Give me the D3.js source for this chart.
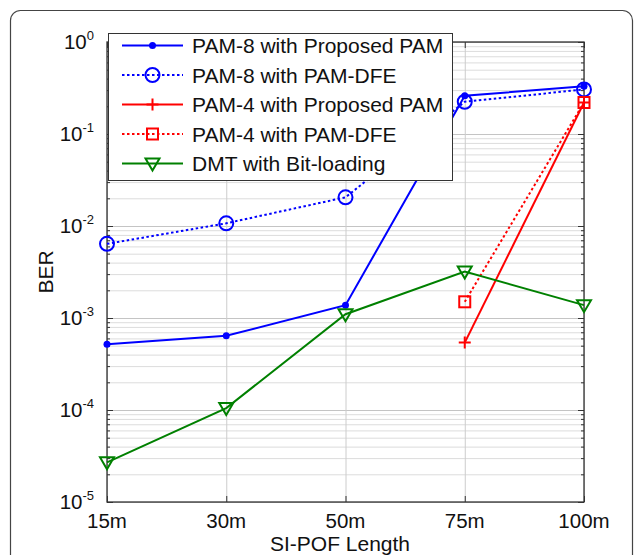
<!DOCTYPE html>
<html><head><meta charset="utf-8">
<script src="https://cdn.jsdelivr.net/npm/d3@7"></script>
<style>html,body{margin:0;padding:0;background:#fff;}svg{display:block;font-family:"Liberation Sans",Arial,sans-serif;}</style>
</head><body><svg id="c" width="635" height="555"></svg>
<script>
const categories = ["15m", "30m", "50m", "75m", "100m"];
const pam8Proposed = [5.2e-4, 6.4e-4, 1.38e-3, 0.26, 0.33];
const pam8DFE = [6.4e-3, 1.07e-2, 2.05e-2, 0.224, 0.305];
const pam4Proposed = [null, null, null, 5.4e-4, 0.22];
const pam4DFE = [null, null, null, 1.5e-3, 0.22];
const dmtBitLoading = [2.7e-5, 1.05e-4, 1.1e-3, 3.2e-3, 1.38e-3];
const seriesNames = ["PAM-8 with Proposed PAM", "PAM-8 with PAM-DFE", "PAM-4 with Proposed PAM", "PAM-4 with PAM-DFE", "DMT with Bit-loading"];
const yTickExponents = [0, -1, -2, -3, -4, -5];
const xLabel = "SI-POF Length";
const yLabel = "BER";

const svg = d3.select("#c");
const L = 107, R = 584, T = 42, B = 502;
const x = d3.scalePoint().domain(categories).range([L, R]);
const y = d3.scaleLog().domain([1e-5, 1]).range([B, T]);

// outer frame
svg.append("rect").attr("x", 10.5).attr("y", 10.5).attr("width", 622).attr("height", 580)
  .attr("rx", 10).attr("fill", "#fff").attr("stroke", "#444").attr("stroke-width", 1.2);

svg.append("rect").attr("x", L).attr("y", T).attr("width", R - L).attr("height", B - T).attr("fill", "#fff");

const minorVals = [];
for (let e = -5; e < 0; e++) for (let m = 2; m <= 9; m++) minorVals.push(m * Math.pow(10, e));
const majorVals = yTickExponents.map(e => Math.pow(10, e));

// grid lines
const gGrid = svg.append("g");
gGrid.append("g").attr("transform", `translate(${L},0)`)
  .call(d3.axisLeft(y).tickValues(minorVals).tickSize(-(R - L)).tickFormat(""))
  .call(g => g.select(".domain").remove())
  .call(g => g.selectAll("line").attr("stroke", "#dcdcdc").attr("stroke-width", 1));
gGrid.append("g").attr("transform", `translate(${L},0)`)
  .call(d3.axisLeft(y).tickValues(majorVals).tickSize(-(R - L)).tickFormat(""))
  .call(g => g.select(".domain").remove())
  .call(g => g.selectAll("line").attr("stroke", "#c4c4c4").attr("stroke-width", 1));
gGrid.append("g").attr("transform", `translate(0,${B})`)
  .call(d3.axisBottom(x).tickSize(-(B - T)).tickFormat(""))
  .call(g => g.select(".domain").remove())
  .call(g => g.selectAll("line").attr("stroke", "#cccccc").attr("stroke-width", 1));

function tickAxis(axisFn, pos, vals, size) {
  return svg.append("g").attr("transform", pos)
    .call(axisFn.tickValues(vals).tickSize(size).tickFormat(""))
    .call(g => g.select(".domain").remove())
    .call(g => g.selectAll("line").attr("stroke", "#333").attr("stroke-width", 1));
}
tickAxis(d3.axisLeft(y), `translate(${L},0)`, minorVals, -3);
tickAxis(d3.axisLeft(y), `translate(${L},0)`, majorVals, -6);
tickAxis(d3.axisRight(y), `translate(${R},0)`, minorVals, -3);
tickAxis(d3.axisRight(y), `translate(${R},0)`, majorVals, -6);
tickAxis(d3.axisBottom(x), `translate(0,${B})`, categories, -6);
tickAxis(d3.axisTop(x), `translate(0,${T})`, categories, -6);

svg.append("rect").attr("x", L).attr("y", T).attr("width", R - L).attr("height", B - T)
  .attr("fill", "none").attr("stroke", "#333").attr("stroke-width", 1.3);

// tick labels
const yl = svg.append("g").attr("font-size", 20.5).attr("fill", "#111");
yTickExponents.forEach(e => {
  const t = yl.append("text").attr("x", 94).attr("y", y(Math.pow(10, e)) + 7).attr("text-anchor", "end");
  t.append("tspan").text("10");
  t.append("tspan").attr("dy", -9).attr("font-size", 13).text(String(e));
});
const xl = svg.append("g").attr("font-size", 20.5).attr("fill", "#111");
categories.forEach(c => {
  xl.append("text").attr("x", x(c)).attr("y", 528).attr("text-anchor", "middle").text(c);
});
svg.append("text").attr("x", 340).attr("y", 551).attr("text-anchor", "middle")
  .attr("font-size", 21).attr("fill", "#111").text(xLabel);
svg.append("text").attr("transform", "translate(52.5,272) rotate(-90)").attr("text-anchor", "middle")
  .attr("font-size", 21).attr("fill", "#111").text(yLabel);

// series
const series = [
  {name: seriesNames[0], vals: pam8Proposed, color: "#0000ff", dash: null, marker: "dot"},
  {name: seriesNames[1], vals: pam8DFE, color: "#0000ff", dash: "2.5,2.5", marker: "circle"},
  {name: seriesNames[2], vals: pam4Proposed, color: "#ff0000", dash: null, marker: "plus"},
  {name: seriesNames[3], vals: pam4DFE, color: "#ff0000", dash: "2.5,2.5", marker: "square"},
  {name: seriesNames[4], vals: dmtBitLoading, color: "#008000", dash: null, marker: "tri"}
];

function drawMarker(g, type, cx, cy, color) {
  if (type === "dot") {
    g.append("circle").attr("cx", cx).attr("cy", cy).attr("r", 3.5).attr("fill", color);
  } else if (type === "circle") {
    g.append("circle").attr("cx", cx).attr("cy", cy).attr("r", 7).attr("fill", "none").attr("stroke", color).attr("stroke-width", 2);
  } else if (type === "plus") {
    g.append("path").attr("d", `M${cx - 6},${cy}H${cx + 6}M${cx},${cy - 6}V${cy + 6}`).attr("stroke", color).attr("stroke-width", 2).attr("fill", "none");
  } else if (type === "square") {
    g.append("rect").attr("x", cx - 5.5).attr("y", cy - 5.5).attr("width", 11).attr("height", 11).attr("fill", "none").attr("stroke", color).attr("stroke-width", 2);
  } else if (type === "tri") {
    g.append("path").attr("d", `M${cx - 7},${cy - 5}L${cx + 7},${cy - 5}L${cx},${cy + 7}Z`).attr("fill", "none").attr("stroke", color).attr("stroke-width", 2);
  }
}

const line = d3.line().defined(d => d.v != null).x(d => x(d.c)).y(d => y(d.v));
const gS = svg.append("g");
series.forEach(s => {
  const pts = categories.map((c, i) => ({c, v: s.vals[i]}));
  gS.append("path").datum(pts).attr("d", line).attr("fill", "none").attr("stroke", s.color)
    .attr("stroke-width", 2).attr("stroke-dasharray", s.dash);
  pts.filter(p => p.v != null).forEach(p => drawMarker(gS, s.marker, x(p.c), y(p.v), s.color));
});

// legend
const lg = svg.append("g");
lg.append("rect").attr("x", 108.5).attr("y", 33.5).attr("width", 344).attr("height", 147)
  .attr("fill", "#fff").attr("stroke", "#333").attr("stroke-width", 1);
series.forEach((s, i) => {
  const cy = 45.5 + i * 29.5;
  lg.append("line").attr("x1", 122).attr("x2", 183).attr("y1", cy).attr("y2", cy)
    .attr("stroke", s.color).attr("stroke-width", 2).attr("stroke-dasharray", s.dash);
  drawMarker(lg, s.marker, 152.5, cy, s.color);
  lg.append("text").attr("x", 192).attr("y", cy + 7.5).attr("font-size", 21).attr("fill", "#111").text(s.name);
});
</script></body></html>
